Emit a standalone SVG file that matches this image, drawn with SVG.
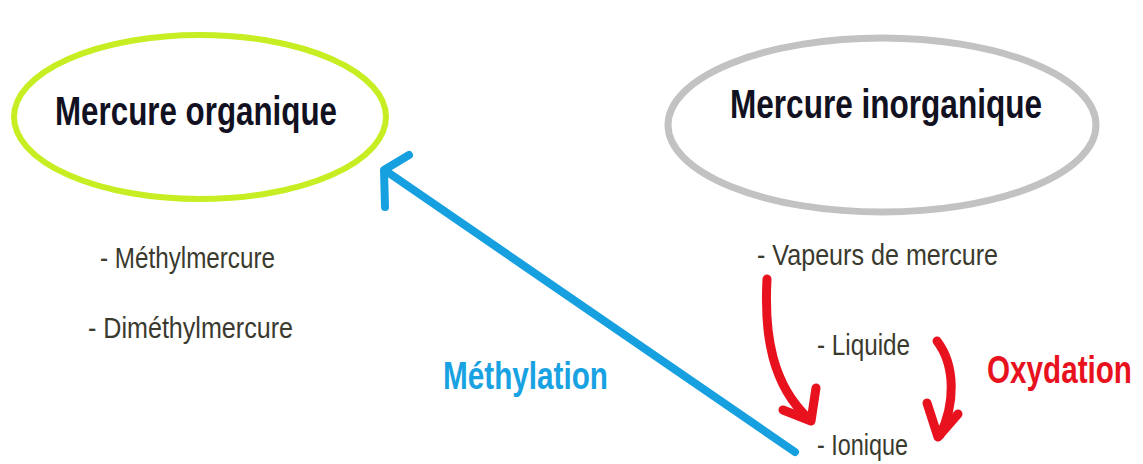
<svg xmlns="http://www.w3.org/2000/svg" width="1143" height="464" viewBox="0 0 1143 464">
<style>
.title{font-family:"Liberation Sans",Arial,sans-serif;font-weight:bold;fill:#111122;font-size:41px}
.item{font-family:"Liberation Sans",Arial,sans-serif;fill:#3a3a2e;font-size:30px}
.lbl{font-family:"Liberation Sans",Arial,sans-serif;font-weight:bold;font-size:38px}
.blue{fill:none;stroke:#17a0e0;stroke-width:8;stroke-linecap:round;stroke-linejoin:round}
.red{fill:none;stroke:#e8121e;stroke-width:9;stroke-linecap:round;stroke-linejoin:round}
</style>
<rect width="1143" height="464" fill="#ffffff"/>
<g id="organique">
<ellipse cx="200" cy="117" rx="186" ry="82" fill="none" stroke="#c6ee22" stroke-width="6"/>
<text class="title" x="55" y="125" textLength="282" lengthAdjust="spacingAndGlyphs">Mercure organique</text>
<text class="item" x="100" y="268" textLength="175" lengthAdjust="spacingAndGlyphs">- Méthylmercure</text>
<text class="item" x="88" y="338" textLength="205" lengthAdjust="spacingAndGlyphs">- Diméthylmercure</text>
</g>
<g id="inorganique">
<ellipse cx="882" cy="125" rx="214" ry="87" fill="none" stroke="#c2c2c2" stroke-width="7"/>
<text class="title" x="730" y="118" textLength="312" lengthAdjust="spacingAndGlyphs">Mercure inorganique</text>
<text class="item" x="757" y="265" textLength="241" lengthAdjust="spacingAndGlyphs">- Vapeurs de mercure</text>
<text class="item" x="817" y="355" textLength="93" lengthAdjust="spacingAndGlyphs">- Liquide</text>
<text class="item" x="817" y="455" textLength="91" lengthAdjust="spacingAndGlyphs">- Ionique</text>
</g>
<g id="connectors">
<line class="blue" x1="795" y1="452" x2="386" y2="171"/>
<polyline class="blue" points="409,155 384,170 385,207"/>
<path class="red" d="M767,279 C764,335 772,385 809,419"/>
<polyline class="red" points="783,410 811,421 816,388"/>
<path class="red" d="M937,341 C956,366 955,405 940,435"/>
<polyline class="red" points="927,403 938,437 958,414"/>
</g>
<g id="labels">
<text class="lbl" x="443" y="389" fill="#19a2e2" textLength="165" lengthAdjust="spacingAndGlyphs">Méthylation</text>
<text class="lbl" transform="translate(987,383) scale(1,1.36)" x="0" y="0" fill="#e8121e" style="font-size:28px" textLength="145" lengthAdjust="spacingAndGlyphs">Oxydation</text>
</g>
</svg>
